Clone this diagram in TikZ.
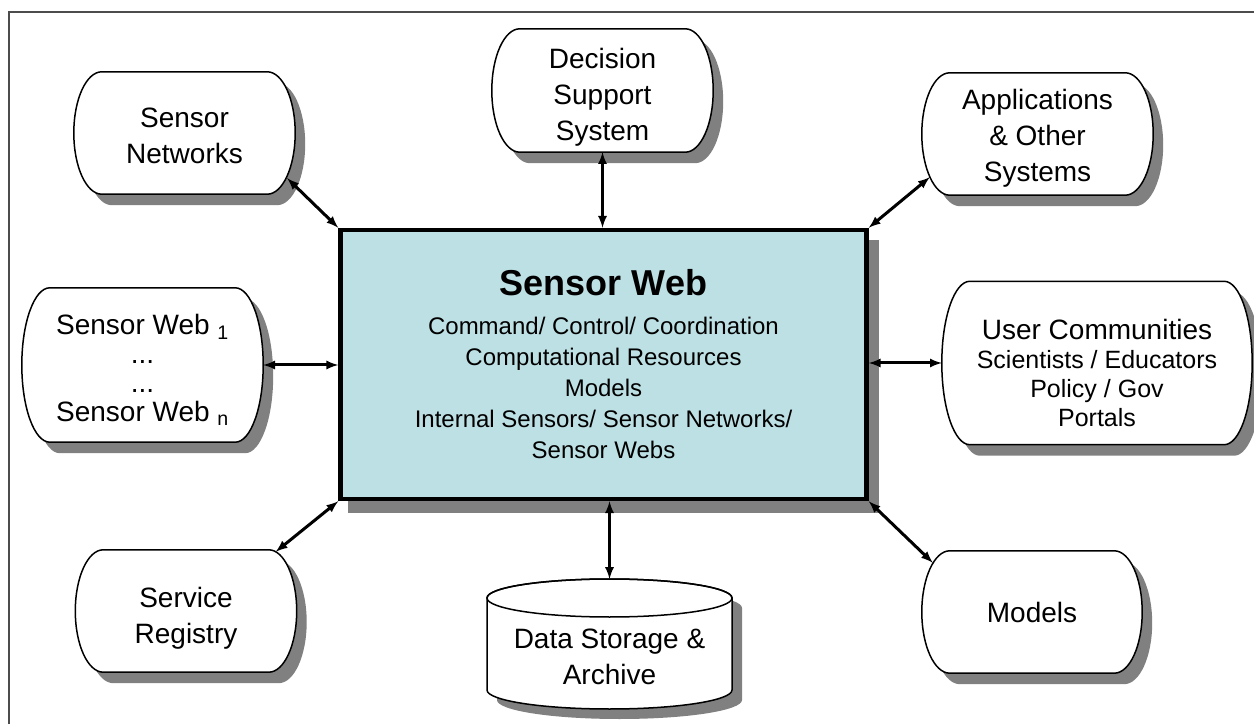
\documentclass[tikz,border=0pt]{standalone}
\usepackage{fontspec}
\setmainfont{Liberation Sans}
\usetikzlibrary{calc,backgrounds,arrows}

\definecolor{webblue}{RGB}{189,224,228}
\definecolor{shadegray}{RGB}{128,128,128}

% outline of a rounded terminal box, taken from the node's corners (#2 = offset)
\newcommand\termpath[2]{%
  let \p1=([shift={(#2)}]#1.north west), \p2=([shift={(#2)}]#1.south east), \n1={(\y1-\y2)/2} in
  (\x1+28pt,\y1) -- (\x2-28pt,\y1)
  arc[start angle=90, end angle=-90, x radius=28pt, y radius=\n1]
  -- (\x1+28pt,\y2)
  arc[start angle=270, end angle=90, x radius=28pt, y radius=\n1] -- cycle}

% body of the archive drum, hung from its top coordinate (#2 = offset)
\newcommand\drumpath[2]{%
  let \p1=([shift={(#2)}]#1) in
  (\x1-122.5pt,\y1-19pt) -- (\x1-122.5pt,\y1-111pt)
  arc[start angle=180, end angle=360, x radius=122.5, y radius=19]
  -- (\x1+122.5pt,\y1-19pt)
  arc[start angle=0, end angle=180, x radius=122.5, y radius=19] -- cycle}

\begin{document}
\begin{tikzpicture}[
      x=1pt, y=1pt,
      txt/.style={
          font=\fontsize{28}{36}\selectfont,
          align=center
        },
      term/.style={
          txt,
          inner sep=0pt,
          minimum width=221,
          minimum height=122
        },
      hub/.style={
          draw,
          line width=4.5pt,
          fill=webblue,
          minimum width=526,
          minimum height=269,
          inner sep=0pt,
          align=center,
          font=\fontsize{24}{31}\selectfont
        },
      link/.style={
          <->,
          line width=3pt
        },
      >=latex
    ]
    \useasboundingbox (0,0) rectangle (1254,724);
    \draw[black!70, line width=1.2pt] (9,0) -- (9,712) -- (1254,712);

    \node[hub] (swb) at (603.5,359.5)
      {{\fontsize{36}{40}\selectfont\bfseries Sensor Web}\\[8pt]
       Command/ Control/ Coordination\\
       Computational Resources\\
       Models\\
       Internal Sensors/ Sensor Networks/\\
       Sensor Webs};

    \node[term] (sennet) at (184.5,591) {\rule{0pt}{26pt}Sensor\\Networks};
    \node[term, minimum height=123] (dss) at (602.5,633.5) {\rule{0pt}{34pt}Decision\\Support\\System};
    \node[term, minimum width=231] (apps) at (1037.5,590) {\rule{0pt}{28pt}Applications\\\& Other\\Systems};
    \node[term, minimum width=241, minimum height=154, font=\fontsize{28}{29}\selectfont] (webs) at (142.5,359)
      {\rule{0pt}{30pt}Sensor Web \textsubscript{1}\\...\\...\\Sensor Web \textsubscript{n}};
    \node[term, minimum width=310, minimum height=163, font=\fontsize{25}{29}\selectfont] (users) at (1097,361)
      {\rule{0pt}{40pt}{\fontsize{28}{29}\selectfont User Communities}\\Scientists / Educators\\Policy / Gov\\Portals};
    \node[term] (reg) at (186,113) {\rule{0pt}{34pt}Service\\Registry};
    \node[term, minimum width=220] (mdl) at (1032,112) {Models};

    \coordinate (dsatop) at (609.5,145);
    \node[txt] (dsa) at (609.5,67) {Data Storage \&\\Archive};

    \begin{pgfonlayer}{background}
      \fill[shadegray] ([shift={(10,-12)}]swb.south west) rectangle ([shift={(10,-12)}]swb.north east);
      \foreach \nd in {sennet,dss,apps,webs,users,reg,mdl}
        {\fill[shadegray] \termpath{\nd}{10,-11};
         \draw[fill=white, line width=1.5pt] \termpath{\nd}{0,0};
        }
      % drum of the archive
      \fill[shadegray] \drumpath{dsatop}{10,-10};
      \draw[fill=white, line width=1.5pt] \drumpath{dsatop}{0,0};
      \draw[line width=1.5pt] ([yshift=-19pt]dsatop) ellipse[x radius=122.5, y radius=19];
    \end{pgfonlayer}

    \draw[link] ([shift={(-8,16)}]sennet.south east) -- (swb.north west);
    \draw[link] (dss.south) -- (swb.north -| dss.south);
    \draw[link] ([shift={(8,18)}]apps.south west) -- (swb.north east);
    \draw[link] (webs.east) -- (webs.east -| swb.west);
    \draw[link] (users.west) -- (users.west -| swb.east);
    \draw[link] ([shift={(-21,-2)}]reg.north east) -- (swb.south west);
    \draw[link] (swb.south -| dsatop) -- (dsatop);
    \draw[link] (swb.south east) -- ([shift={(11,-12)}]mdl.north west);
  \end{tikzpicture}
\end{document}
